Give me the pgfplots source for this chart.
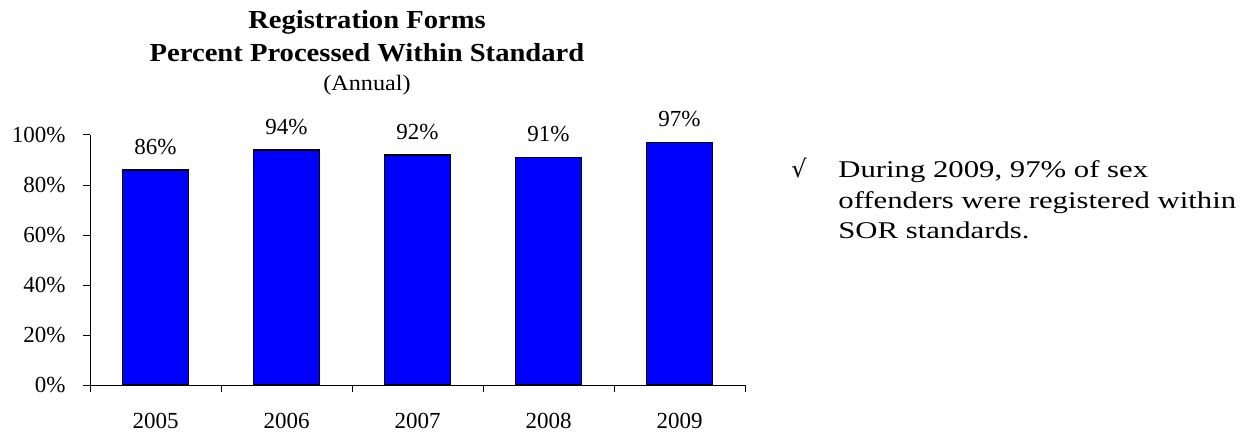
\documentclass[border=0pt]{standalone}
\usepackage{pgfplots}
\pgfplotsset{compat=1.18}
\usepackage{fontspec}
\setmainfont{Liberation Serif}
\newfontfamily\titlefont{Liberation Serif}[FakeStretch=1.1]
\newfontfamily\notefont{Liberation Serif}[FakeStretch=1.28]
\newfontfamily\symfont{DejaVu Sans}
\begin{document}
\begin{tikzpicture}
\path[use as bounding box] (0pt,0pt) rectangle (623pt,217pt);
\begin{axis}[
  at={(45pt,24.5pt)}, anchor=south west,
  scale only axis, width=327.5pt, height=125pt,
  xmin=-0.5, xmax=4.5, ymin=0, ymax=100,
  axis x line=bottom, axis y line=left,
  axis line style={-, line width=0.5pt, black},
  xtick={-0.5,0.5,1.5,2.5,3.5,4.5},
  xticklabels={},
  extra x ticks={0,1,2,3,4},
  extra x tick labels={2005,2006,2007,2008,2009},
  extra x tick style={major tick length=0pt},
  ytick={0,20,40,60,80,100},
  yticklabel={\pgfmathprintnumber{\tick}\%},
  tick style={draw=black, line width=0.5pt},
  tick align=outside, major tick length=3.5pt,
  tick label style={font=\fontsize{11.5}{12}\selectfont},
  /pgf/number format/assume math mode=true,
  yticklabel style={anchor=east, inner sep=0pt, xshift=-8.5pt},
  xticklabel style={anchor=center, inner sep=0pt, yshift=-18pt},
  ybar, bar width=33pt,
  nodes near coords={\pgfmathprintnumber{\pgfplotspointmeta}\%},
  nodes near coords style={font=\fontsize{11.5}{12}\selectfont, anchor=center, yshift=11.5pt},
  clip=false,
]
\addplot[fill={rgb,255:red,0;green,0;blue,255}, draw=black, line width=0.85pt]
  coordinates {(0,86) (1,94) (2,92) (3,91) (4,97)};
\end{axis}
\node[font=\titlefont\bfseries\fontsize{13}{15}\selectfont] at (183.5pt,206pt) {Registration Forms};
\node[font=\titlefont\bfseries\fontsize{13}{15}\selectfont] at (183.5pt,190.5pt) {Percent Processed Within Standard};
\node[font=\titlefont\fontsize{11}{13}\selectfont] at (183.5pt,174.5pt) {(Annual)};
\node[font=\notefont\fontsize{12}{14}\selectfont, anchor=base west, inner sep=0pt] at (419pt,128pt) {During 2009, 97\% of sex};
\node[font=\notefont\fontsize{12}{14}\selectfont, anchor=base west, inner sep=0pt] at (419pt,112.75pt) {offenders were registered within};
\node[font=\notefont\fontsize{12}{14}\selectfont, anchor=base west, inner sep=0pt] at (419pt,97.5pt) {SOR standards.};
\node[font=\symfont\fontsize{12}{14}\selectfont, anchor=base, inner sep=0pt] at (399.5pt,128pt) {√};
\end{tikzpicture}
\end{document}
